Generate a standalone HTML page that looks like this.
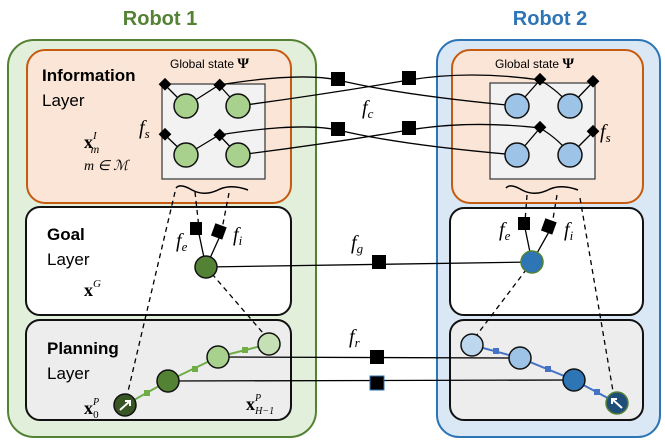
<!DOCTYPE html>
<html><head><style>body{margin:0;background:#fff}svg{display:block}
.s{font-family:"Liberation Sans",sans-serif}.m{font-family:"Liberation Serif",serif;font-style:italic}</style></head><body>
<svg width="665" height="443" viewBox="0 0 665 443" xmlns="http://www.w3.org/2000/svg">
<text x="160" y="25" class="s" font-size="20" font-weight="bold" fill="#548235" text-anchor="middle">Robot 1</text>
<text x="550" y="25" class="s" font-size="20" font-weight="bold" fill="#2e75b6" text-anchor="middle">Robot 2</text>
<rect x="8" y="40" width="308" height="397" rx="26" fill="#e2efda" stroke="#548235" stroke-width="2"/>
<rect x="437" y="40" width="223" height="397" rx="22" fill="#dae8f5" stroke="#2e75b6" stroke-width="2"/>
<rect x="27" y="50" width="264" height="153" rx="18" fill="#fbe5d6" stroke="#c55a11" stroke-width="2"/>
<rect x="452" y="50" width="191" height="153" rx="18" fill="#fbe5d6" stroke="#c55a11" stroke-width="2"/>
<rect x="162" y="84" width="103" height="95" fill="#f2f2f2" stroke="#333" stroke-width="1.2"/>
<rect x="490" y="83" width="105" height="96" fill="#f2f2f2" stroke="#333" stroke-width="1.2"/>
<rect x="26" y="207" width="265" height="108" rx="14" fill="#fff" stroke="#111" stroke-width="2"/>
<rect x="450" y="208" width="193" height="107" rx="14" fill="#fff" stroke="#111" stroke-width="2"/>
<rect x="26" y="320" width="265" height="100" rx="14" fill="#ededed" stroke="#111" stroke-width="2"/>
<rect x="450" y="320" width="193" height="100" rx="14" fill="#ededed" stroke="#111" stroke-width="2"/>
<text x="42" y="81" class="s" font-size="17" font-weight="bold">Information</text>
<text x="42" y="106" class="s" font-size="17">Layer</text>
<text x="170" y="68" class="s" font-size="12">Global state <tspan font-weight="bold" font-size="15" font-family="Liberation Serif">Ψ</tspan></text>
<text x="495" y="68" class="s" font-size="12">Global state <tspan font-weight="bold" font-size="15" font-family="Liberation Serif">Ψ</tspan></text>
<text x="84" y="148" font-family="Liberation Serif" font-weight="bold" font-size="18">x<tspan font-size="11" dy="-9" font-weight="normal" font-style="italic">I</tspan><tspan font-size="12" dx="-6" dy="14" font-weight="normal" font-style="italic">m</tspan></text>
<text x="84" y="170" class="m" font-size="14">m ∈ ℳ</text>
<text x="139" y="134" class="m" font-size="20">f<tspan font-size="13" dy="4">s</tspan></text>
<text x="600" y="138" class="m" font-size="20">f<tspan font-size="13" dy="4">s</tspan></text>
<text x="362" y="114" class="m" font-size="20">f<tspan font-size="13" dy="4">c</tspan></text>
<text x="47" y="240" class="s" font-size="17" font-weight="bold">Goal</text>
<text x="47" y="265" class="s" font-size="17">Layer</text>
<text x="84" y="296" font-family="Liberation Serif" font-weight="bold" font-size="18">x<tspan font-size="11" dy="-9" font-weight="normal" font-style="italic">G</tspan></text>
<text x="47" y="354" class="s" font-size="17" font-weight="bold">Planning</text>
<text x="47" y="379" class="s" font-size="17">Layer</text>
<text x="84" y="414" font-family="Liberation Serif" font-weight="bold" font-size="18">x<tspan font-size="10" dy="-9" font-weight="normal" font-style="italic">P</tspan><tspan font-size="11" dx="-6" dy="13" font-weight="normal">0</tspan></text>
<text x="246" y="410" font-family="Liberation Serif" font-weight="bold" font-size="18">x<tspan font-size="10" dy="-9" font-weight="normal" font-style="italic">P</tspan><tspan font-size="10" dx="-6" dy="13" font-weight="normal" font-style="italic">H−1</tspan></text>
<text x="176" y="247" class="m" font-size="20">f<tspan font-size="13" dy="4">e</tspan></text>
<text x="233" y="241" class="m" font-size="20">f<tspan font-size="13" dy="4">i</tspan></text>
<text x="499" y="236" class="m" font-size="20">f<tspan font-size="13" dy="4">e</tspan></text>
<text x="564" y="236" class="m" font-size="20">f<tspan font-size="13" dy="4">i</tspan></text>
<text x="351" y="249" class="m" font-size="20">f<tspan font-size="13" dy="4">g</tspan></text>
<text x="349" y="343" class="m" font-size="20">f<tspan font-size="13" dy="4">r</tspan></text>
<path d="M176 188 Q180 183 192 190 Q205 197 220 189 Q232 184 248 190" fill="none" stroke="#000" stroke-width="1.5"/>
<path d="M506 188 Q510 183 522 190 Q535 197 550 189 Q562 184 578 190" fill="none" stroke="#000" stroke-width="1.5"/>
<g stroke="#000" stroke-width="1.3" fill="none" stroke-dasharray="5,4">
<path d="M175 192 L126 400"/><path d="M206 267 L269 340"/>
<path d="M195 192 L199 228"/><path d="M229 193 L222 229"/>
<path d="M527 195 L525 222"/><path d="M557 195 L552 225"/><path d="M580 198 L614 397"/>
<path d="M532 262 L476 336"/>
</g>
<g stroke="#000" stroke-width="1.3" fill="none">
<path d="M199 234 L206 267 M220 236 L206 267"/>
<path d="M525 228 L532 262 M550 230 L532 262"/>
<path d="M165 85 L186 106 M219 85 L186 106 M219 85 L238 106"/>
<path d="M165 135 L186 155 M219 135 L186 155 M219 135 L238 155"/>
<path d="M540 80 L517 106 M593 82 L570 106"/>
<path d="M540 128 L517 155 M593 132 L570 155"/>
<path d="M219 85 Q300 72 338 80 Q400 95 517 106"/>
<path d="M238 106 Q320 95 409 80 Q470 70 540 80"/>
<path d="M219 135 Q300 122 338 130 Q400 145 517 155"/>
<path d="M238 155 Q320 145 409 130 Q470 120 540 128"/>
<path d="M540 80 Q560 92 570 106"/><path d="M540 128 Q560 140 570 155"/>
<path d="M206 267 L532 262"/>
<path d="M218 357 L520 358"/><path d="M168 381 L574 380"/>
</g>
<path d="M125 405 L168 381 L218 357 L269 344" stroke="#70ad47" stroke-width="2" fill="none"/>
<path d="M472 345 L520 358 L574 380 L617 403" stroke="#4472c4" stroke-width="2" fill="none"/>
<g fill="#70ad47"><rect x="144" y="390" width="6" height="6"/><rect x="192" y="366" width="6" height="6"/><rect x="242" y="347" width="6" height="6"/></g>
<g fill="#4472c4"><rect x="493" y="348" width="6" height="6"/><rect x="545" y="366" width="6" height="6"/><rect x="594" y="389" width="6" height="6"/></g>
<g fill="#000">
<rect x="160" y="80" width="9" height="9" transform="rotate(45 165 85)"/>
<rect x="215" y="80" width="9" height="9" transform="rotate(45 219 85)"/>
<rect x="160" y="130" width="9" height="9" transform="rotate(45 165 135)"/>
<rect x="215" y="130" width="9" height="9" transform="rotate(45 219 135)"/>
<rect x="535" y="75" width="9" height="9" transform="rotate(45 540 80)"/>
<rect x="588" y="77" width="9" height="9" transform="rotate(45 593 82)"/>
<rect x="535" y="123" width="9" height="9" transform="rotate(45 540 128)"/>
<rect x="588" y="127" width="9" height="9" transform="rotate(45 593 132)"/>
<rect x="331" y="72" width="14" height="14"/><rect x="402" y="71" width="14" height="14"/>
<rect x="331" y="122" width="14" height="14"/><rect x="402" y="121" width="14" height="14"/>
<rect x="372" y="255" width="14" height="14"/>
<rect x="370" y="350" width="14" height="14"/>
<rect x="370" y="376" width="14" height="14" stroke="#2e75b6"/>
<rect x="190" y="222" width="12" height="13"/><rect x="213" y="225" width="12" height="13" transform="rotate(20 219 231)"/>
<rect x="518" y="217" width="12" height="13"/><rect x="543" y="220" width="12" height="13" transform="rotate(20 549 226)"/>
</g>
<g stroke="#111" stroke-width="1.5">
<circle cx="186" cy="106" r="12" fill="#a9d18e"/><circle cx="238" cy="106" r="12" fill="#a9d18e"/>
<circle cx="186" cy="155" r="12" fill="#a9d18e"/><circle cx="238" cy="155" r="12" fill="#a9d18e"/>
<circle cx="517" cy="106" r="12" fill="#9dc3e6"/><circle cx="570" cy="106" r="12" fill="#9dc3e6"/>
<circle cx="517" cy="155" r="12" fill="#9dc3e6"/><circle cx="570" cy="155" r="12" fill="#9dc3e6"/>
<circle cx="206" cy="267" r="11" fill="#548235"/>
<circle cx="532" cy="262" r="11" fill="#2e75b6" stroke="#548235"/>
<circle cx="125" cy="405" r="11" fill="#375623"/><circle cx="168" cy="381" r="11" fill="#548235"/>
<circle cx="218" cy="357" r="11" fill="#a9d18e"/><circle cx="269" cy="344" r="11" fill="#c5e0b4"/>
<circle cx="472" cy="345" r="11" fill="#bdd7ee"/><circle cx="520" cy="358" r="11" fill="#9dc3e6"/>
<circle cx="574" cy="380" r="11" fill="#2e75b6"/><circle cx="617" cy="403" r="11" fill="#1f4e79" stroke="#548235"/>
</g>
<path d="M120 410 L130 401 M125 401 L130 401 L130 406" stroke="#fff" stroke-width="2" fill="none"/>
<path d="M622 408 L612 399 M612 404 L612 399 L617 399" stroke="#fff" stroke-width="2" fill="none"/>
</svg>
</body></html>
